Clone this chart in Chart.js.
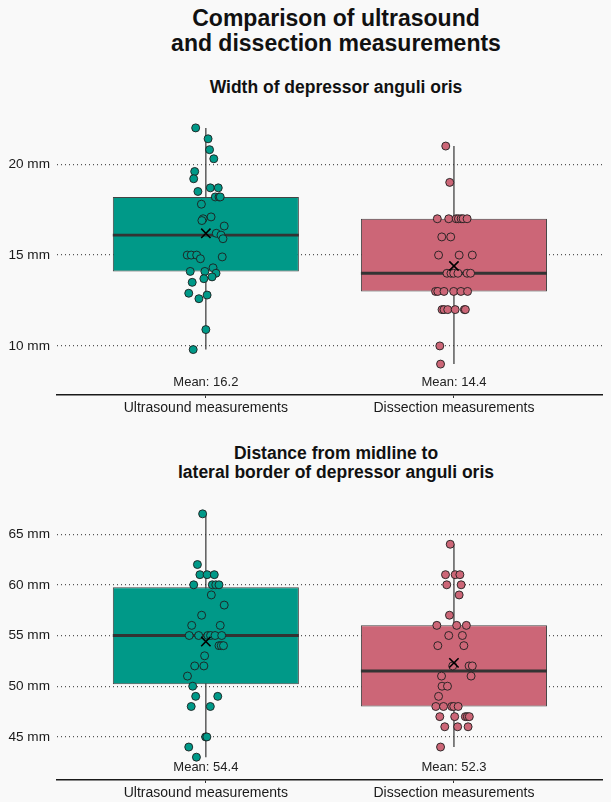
<!DOCTYPE html>
<html>
<head>
<meta charset="utf-8">
<script src="https://cdn.jsdelivr.net/npm/chart.js@4/dist/chart.umd.min.js"></script>
<style>
  html, body { margin: 0; padding: 0; background: #f9f9f9; }
  body { width: 611px; height: 802px; position: relative; overflow: hidden; font-family: "Liberation Sans", Arial, sans-serif; color: #111; }
  .t { position: absolute; left: 0; width: 672px; text-align: center; font-weight: bold; white-space: nowrap; }
  #mainTitle { top: 6px; font-size: 23px; line-height: 25px; }
  #sub1 { top: 77px; font-size: 17.5px; line-height: 20px; }
  #sub2 { top: 444px; font-size: 17.5px; line-height: 18.5px; }
  .cw { position: absolute; left: 0; width: 611px; }
  #w1 { top: 100px; height: 317px; }
  #w2 { top: 486px; height: 316px; }
</style>
</head>
<body>
<div class="t" id="mainTitle">Comparison of ultrasound<br>and dissection measurements</div>
<div class="t" id="sub1">Width of depressor anguli oris</div>
<div class="t" id="sub2">Distance from midline to<br>lateral border of depressor anguli oris</div>
<div class="cw" id="w1"><canvas id="c1" width="611" height="317"></canvas></div>
<div class="cw" id="w2"><canvas id="c2" width="611" height="316"></canvas></div>
<script>
// ---------- data ----------
const categories = ["Ultrasound measurements", "Dissection measurements"];
const groupColors = ["#009988", "#CC6677"];

// Chart 1: Width of depressor anguli oris (mm)
const widthTicks = [10, 15, 20];
const widthUsVals = [22.0,21.4,20.8,20.3,19.6,19.2,18.5,18.7,18.7,18.2,18.2,18.2,17.8,17.1,17.0,16.9,16.6,16.2,16.1,15.9,15.0,15.0,15.0,14.8,14.9,14.1,14.1,14.3,14.0,13.8,13.7,13.5,12.9,12.8,12.6,10.9,9.8];
const widthUsJitter = [-0.041,0.009,0.015,0.032,-0.045,-0.049,-0.032,0.018,0.050,0.038,0.053,0.058,-0.018,0.021,-0.011,-0.016,0.074,0.042,0.061,0.069,-0.075,-0.059,-0.037,-0.022,0.066,-0.063,-0.004,0.029,0.041,0.025,-0.008,-0.055,-0.069,0.005,-0.028,0.000,-0.051];
const widthDsVals = [21,19,17,17,17,17,17,17,17,16,16,15,15,15,14,14,14,14,14,14,13,13,13,13,13,13,12,12,12,12,12,12,10,9];
const widthDsJitter = [-0.033,-0.017,-0.067,-0.021,0.009,0.018,0.029,0.037,0.053,-0.049,-0.013,-0.062,0.021,0.074,-0.028,-0.012,-0.001,0.016,0.053,0.067,-0.074,-0.065,-0.040,-0.001,0.028,0.055,-0.048,-0.040,-0.025,0.005,0.042,0.046,-0.057,-0.054];
const widthQ1 = [14.1, 13.0];
const widthMedian = [16.1, 14.0];
const widthQ3 = [18.2, 17.0];
const widthLow = [9.8, 9.0];
const widthHigh = [22.0, 21.0];
const widthMean = [16.2, 14.4];

// Chart 2: Distance from midline to lateral border (mm)
const distTicks = [45, 50, 55, 60, 65];
const distUsVals = [67,62,61,61,61,60,60,60,60,59,58,57,56,56,55,55,55,55,55,55,54,54,54,53,52,52,51,50,49,49,48,48,45,45,44,43];
const distUsJitter = [-0.013,-0.034,-0.024,0.005,0.034,-0.049,0.026,0.040,0.053,0.022,0.074,-0.017,-0.057,0.058,-0.067,-0.029,0.008,0.019,0.037,0.064,0.053,0.062,0.071,-0.005,-0.045,-0.008,-0.074,-0.053,-0.041,0.048,-0.059,0.018,-0.001,0.004,-0.069,-0.038];
const distDsVals = [64,61,61,61,60,60,59,57,56,56,56,55,55,54,54,52,52,52,51,51,50,50,49,48,48,48,48,48,47,47,47,47,47,46,46,46,44];
const distDsJitter = [-0.015,-0.034,0.005,0.024,-0.029,0.029,0.021,-0.018,-0.069,0.011,0.050,-0.021,0.034,-0.065,0.040,-0.005,0.061,0.074,-0.050,0.069,-0.048,-0.026,-0.062,-0.073,-0.042,-0.009,-0.001,0.017,-0.057,0.003,0.046,0.054,0.062,-0.037,0.015,0.057,-0.054];
const distQ1 = [50.2, 48.0];
const distMedian = [55.0, 51.5];
const distQ3 = [59.75, 56.0];
const distLow = [43, 44];
const distHigh = [67, 64];
const distMean = [54.4, 52.3];

// ---------- builder ----------
const FONT = '"Liberation Sans", Arial, sans-serif';
const BOX_HALF = 0.375;

function buildChart(canvasId, cfg) {
  const datasets = [];
  const n = categories.length;
  for (let i = 0; i < n; i++) {
    const xc = i + 1;
    // whisker
    datasets.push({
      type: 'line', order: 6,
      data: [{x: xc, y: cfg.low[i]}, {x: xc, y: cfg.high[i]}],
      borderColor: '#333', borderWidth: 1.2, pointRadius: 0, fill: false
    });
    // median
    datasets.push({
      type: 'line', order: 4,
      data: [{x: xc - BOX_HALF, y: cfg.median[i]}, {x: xc + BOX_HALF, y: cfg.median[i]}],
      borderColor: '#333', borderWidth: 2.8, pointRadius: 0, fill: false
    });
    // points
    datasets.push({
      type: 'scatter', order: 3,
      data: cfg.vals[i].map((v, k) => ({x: xc + cfg.jit[i][k], y: v})),
      backgroundColor: groupColors[i], borderColor: '#1e1e1e', borderWidth: 0.9,
      pointRadius: 4, pointHoverRadius: 4
    });
  }
  // boxes
  datasets.push({
    type: 'bar', order: 5,
    data: categories.map((c, i) => ({x: i + 1, y: [cfg.q1[i], cfg.q3[i]]})),
    backgroundColor: groupColors, borderColor: '#444', borderWidth: 1,
    borderSkipped: false, barPercentage: 0.75, categoryPercentage: 1
  });
  // means
  datasets.push({
    type: 'scatter', order: 1,
    data: cfg.mean.map((m, i) => ({x: i + 1, y: m})),
    pointStyle: 'crossRot', pointRadius: 6.6, borderColor: '#000', borderWidth: 1.6,
    backgroundColor: '#000'
  });

  const meanLabels = {
    id: 'meanLabels',
    afterDatasetsDraw(chart) {
      const {ctx, scales: {x, y}} = chart;
      ctx.save();
      ctx.font = '13px ' + FONT;
      ctx.fillStyle = '#222';
      ctx.textAlign = 'center';
      ctx.textBaseline = 'middle';
      cfg.mean.forEach((m, i) => {
        ctx.fillText('Mean: ' + m.toFixed(1), x.getPixelForValue(i + 1), y.getPixelForValue(cfg.labelY));
      });
      ctx.restore();
    }
  };

  return new Chart(document.getElementById(canvasId), {
    type: 'scatter',
    data: {datasets},
    plugins: [meanLabels],
    options: {
      responsive: false, animation: false, devicePixelRatio: 1,
      layout: {padding: {top: 4, right: 0, bottom: 0, left: 0}},
      plugins: {legend: {display: false}, tooltip: {enabled: false}, title: {display: false}},
      scales: {
        x: {
          type: 'linear', min: 0.4, max: 2.6, offset: false,
          afterBuildTicks: s => { s.ticks = categories.map((c, i) => ({value: i + 1})); },
          afterFit: s => { s.height = 22; },
          grid: {display: true, drawOnChartArea: false, drawTicks: true, tickLength: 3, color: '#333', lineWidth: 1, offset: false},
          border: {display: true, color: '#1a1a1a', width: 1.6},
          ticks: {
            color: '#1a1a1a', font: {family: FONT, size: 14}, padding: 2, maxRotation: 0, autoSkip: false,
            callback: v => categories[Math.round(v) - 1] || ''
          }
        },
        y: {
          type: 'linear', min: cfg.yMin, max: cfg.yMax,
          afterBuildTicks: s => { s.ticks = cfg.ticks.map(v => ({value: v})); },
          afterFit: s => { s.width = 57; },
          grid: {display: true, drawTicks: false, color: '#555', lineWidth: 1.2},
          border: {display: false, dash: [1, 3]},
          ticks: {
            color: '#1a1a1a', font: {family: FONT, size: 13.6}, padding: 7,
            callback: v => v + ' mm'
          }
        }
      }
    }
  });
}

buildChart('c1', {
  vals: [widthUsVals, widthDsVals], jit: [widthUsJitter, widthDsJitter],
  q1: widthQ1, median: widthMedian, q3: widthQ3, low: widthLow, high: widthHigh, mean: widthMean,
  ticks: widthTicks, yMin: 7.3, yMax: 22.7, labelY: 8
});
buildChart('c2', {
  vals: [distUsVals, distDsVals], jit: [distUsJitter, distDsJitter],
  q1: distQ1, median: distMedian, q3: distQ3, low: distLow, high: distHigh, mean: distMean,
  ticks: distTicks, yMin: 40.75, yMax: 68.25, labelY: 42
});
</script>
</body>
</html>
